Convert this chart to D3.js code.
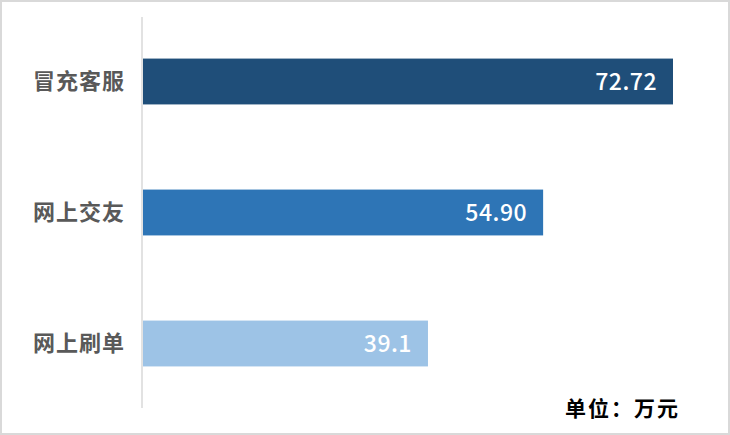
<!DOCTYPE html>
<html><head><meta charset="utf-8">
<script src="https://cdn.jsdelivr.net/npm/d3@7"></script>
<style>
html,body{margin:0;padding:0;background:#fff;}
svg{display:block;}
</style></head>
<body>
<svg id="chart" width="730" height="435"></svg>
<script>
const categories = ["冒充客服", "网上交友", "网上刷单"];
const values = [72.72, 54.90, 39.1];
const valueLabels = ["72.72", "54.90", "39.1"];
const barColors = ["#1f4e79", "#2e75b6", "#9dc3e6"];
const unitLabel = "单位：万元";

const svg = d3.select("#chart");
const W = 730, H = 435;

svg.append("rect").attr("x", 1).attr("y", 1).attr("width", W - 2).attr("height", H - 2)
  .attr("fill", "#fff").attr("stroke", "#d9d9d9").attr("stroke-width", 2);

const x0 = 143;
const x = d3.scaleLinear().domain([0, 72.72]).range([x0, 673]);
const y = d3.scaleBand().domain(categories).range([16, 409]).paddingInner(0.65).paddingOuter(0.325);

svg.selectAll("rect.bar").data(categories).enter().append("rect")
  .attr("class", "bar")
  .attr("x", x(0))
  .attr("y", d => y(d))
  .attr("width", (d, i) => x(values[i]) - x(0))
  .attr("height", y.bandwidth())
  .attr("fill", (d, i) => barColors[i]);

// axis line
svg.append("line").attr("x1", 142).attr("x2", 142).attr("y1", 17).attr("y2", 408)
  .attr("stroke", "#d9d9d9").attr("stroke-width", 1.5);

// category labels
svg.selectAll("text.cat").data(categories).enter().append("text")
  .attr("class", "cat")
  .attr("x", 125)
  .attr("y", d => y(d) + y.bandwidth() / 2)
  .attr("dy", "0.36em")
  .attr("text-anchor", "end")
  .attr("font-family", "'Noto Sans CJK SC', sans-serif")
  .attr("font-size", 22)
  .attr("font-weight", 700)
  .attr("letter-spacing", 1)
  .attr("fill", "#595959")
  .text(d => d);

// value labels
svg.selectAll("text.val").data(categories).enter().append("text")
  .attr("class", "val")
  .attr("x", (d, i) => x(values[i]) - 16)
  .attr("y", d => y(d) + y.bandwidth() / 2)
  .attr("dy", "0.36em")
  .attr("text-anchor", "end")
  .attr("font-family", "'Noto Sans CJK SC', sans-serif")
  .attr("font-size", 23)
  .attr("font-weight", 500)
  .attr("letter-spacing", 0.5)
  .attr("fill", "#ffffff")
  .text((d, i) => valueLabels[i]);

// unit
svg.append("text")
  .attr("x", 680).attr("y", 408).attr("dy", "0.36em")
  .attr("text-anchor", "end")
  .attr("font-family", "'Noto Sans CJK SC', sans-serif")
  .attr("font-size", 21)
  .attr("font-weight", 700)
  .attr("letter-spacing", 2)
  .attr("fill", "#000")
  .text(unitLabel);
</script>
</body></html>
